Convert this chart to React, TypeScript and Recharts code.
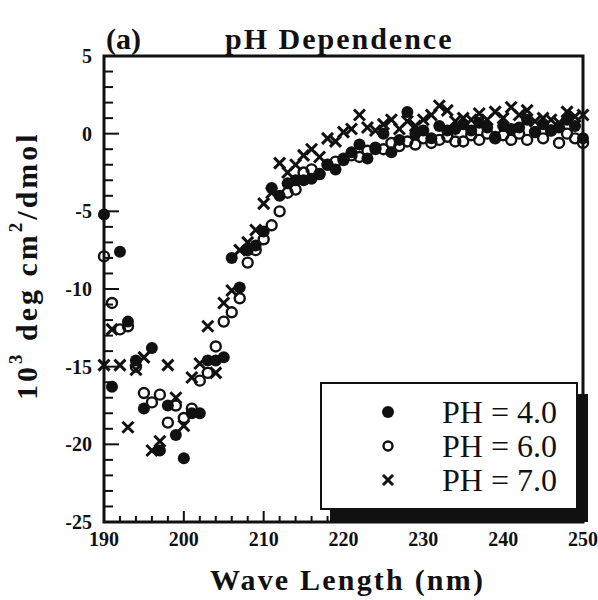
import * as React from "react";
import { ScatterChart, Scatter, XAxis, YAxis, ReferenceArea, Label } from "recharts";

/* ── data ──────────────────────────────────────────────────────────────────── */

const wavelength = [
  190, 191, 192, 193, 194, 195, 196, 197, 198, 199,
  200, 201, 202, 203, 204, 205, 206, 207, 208, 209,
  210, 211, 212, 213, 214, 215, 216, 217, 218, 219,
  220, 221, 222, 223, 224, 225, 226, 227, 228, 229,
  230, 231, 232, 233, 234, 235, 236, 237, 238, 239,
  240, 241, 242, 243, 244, 245, 246, 247, 248, 249, 250,
];

const ph4 = [
  -5.2, -16.3, -7.6, -12.1, -14.6, -17.7, -13.8, -20.4, -17.5, -19.4,
  -20.9, -18.0, -18.0, -14.6, -14.6, -14.4, -8.0, -9.9, -7.5, -7.2,
  -6.3, -3.5, -4.0, -3.2, -3.0, -3.0, -2.9, -2.6, -2.0, -2.3,
  -1.6, -1.2, -0.7, -1.6, -1.0, 0.0, -1.2, -0.4, 1.4, 0.0,
  0.2, -0.3, 0.5, 0.2, 0.3, 0.6, 0.2, 0.7, 0.4, -0.2,
  0.5, 0.3, 0.4, 0.9, 0.1, 0.6, 0.2, 0.4, 0.9, 0.5, -0.3,
];

const ph6 = [
  -7.9, -10.9, -12.6, -12.4, -15.0, -16.7, -17.3, -16.8, -18.6, -17.5,
  -18.3, -17.7, -15.9, -15.4, -13.7, -12.1, -11.5, -10.6, -8.3, -7.5,
  -6.8, -5.9, -5.0, -3.8, -3.6, -2.5, -2.3, -2.6, -2.0, -1.8,
  -1.7, -1.4, -1.5, -1.1, -0.9, -1.0, -0.6, -0.8, -0.5, -0.7,
  -0.3, -0.6, -0.4, -0.2, -0.5, -0.5, -0.1, -0.4, 0.0, -0.3,
  -0.1, -0.4, 0.0, -0.4, 0.1, -0.3, 0.2, -0.6, 0.0, -0.3, -0.6,
];

const ph7 = [
  -14.9, -12.6, -14.9, -18.9, -15.2, -14.4, -20.4, -19.8, -14.9, -17.0,
  -18.8, -15.7, -14.8, -12.4, -15.4, -10.9, -10.1, -7.5, -7.0, -6.2,
  -4.5, -3.8, -1.9, -2.5, -2.0, -1.4, -1.0, -1.5, -0.3, -0.5,
  0.1, 0.3, 1.2, 0.4, 0.2, 0.6, 0.9, 0.3, 0.8, 0.5,
  0.9, 1.2, 1.8, 1.5, 0.8, 1.0, 0.9, 1.3, 0.9, 1.4,
  1.0, 1.7, 1.2, 1.5, 0.8, 1.0, 0.9, 0.7, 1.4, 1.1, 1.2,
];

const xTicks = [
  190, 192, 194, 196, 198, 200, 202, 204, 206, 208, 210, 212, 214, 216, 218,
  220, 222, 224, 226, 228, 230, 232, 234, 236, 238, 240, 242, 244, 246, 248, 250,
];
const yTicks = [
  -25, -24, -23, -22, -21, -20, -19, -18, -17, -16, -15, -14, -13, -12, -11,
  -10, -9, -8, -7, -6, -5, -4, -3, -2, -1, 0, 1, 2, 3, 4, 5,
];

const legendItems = [
  { label: "PH = 4.0", kind: "dot" },
  { label: "PH = 6.0", kind: "ring" },
  { label: "PH = 7.0", kind: "cross" },
];

const toPoints = (ys: number[]) => wavelength.map((x, i) => ({ x, y: ys[i] }));

/* ── markers ───────────────────────────────────────────────────────────────── */

const INK = "#111";
const SERIF = "'Liberation Serif', 'Times New Roman', 'DejaVu Serif', serif";

function DotShape(p: any) {
  return <circle cx={p.cx} cy={p.cy} r={6} fill={INK} />;
}
function RingShape(p: any) {
  return <circle cx={p.cx} cy={p.cy} r={5} fill="none" stroke={INK} strokeWidth={2.4} />;
}
function CrossShape(p: any) {
  const s = 5.5;
  return (
    <g stroke={INK} strokeWidth={3}>
      <line x1={p.cx - s} y1={p.cy - s} x2={p.cx + s} y2={p.cy + s} />
      <line x1={p.cx - s} y1={p.cy + s} x2={p.cx + s} y2={p.cy - s} />
    </g>
  );
}

/* ── ticks: inward marks, labels on majors ─────────────────────────────────── */

function XTick(p: any) {
  const v = p.payload.value;
  const major = v % 10 === 0;
  return (
    <g>
      <line x1={p.x} y1={p.y} x2={p.x} y2={p.y - (major ? 11 : 6)} stroke={INK} strokeWidth={2} />
      {major && (
        <text x={p.x} y={p.y + 24} textAnchor="middle" fontFamily={SERIF} fontWeight="bold" fontSize={20} fill={INK}>
          {v}
        </text>
      )}
    </g>
  );
}

function YTick(p: any) {
  const v = p.payload.value;
  const major = v % 5 === 0;
  return (
    <g>
      <line x1={p.x} y1={p.y} x2={p.x + (major ? 15 : 9)} y2={p.y} stroke={INK} strokeWidth={2} />
      {major && (
        <text x={p.x - 12} y={p.y} dy="0.35em" textAnchor="end" fontFamily={SERIF} fontWeight="bold" fontSize={20} fill={INK}>
          {v}
        </text>
      )}
    </g>
  );
}

function YTitle(p: any) {
  const vb = p.viewBox;
  const cx = vb.x + 26;
  const cy = vb.y + vb.height - 122;
  return (
    <text
      x={cx}
      y={cy}
      transform={`rotate(-90 ${cx} ${cy})`}
      textAnchor="start"
      dominantBaseline="central"
      fontFamily={SERIF}
      fontWeight="bold"
      fontSize={30}
      letterSpacing={3}
      fill={INK}
    >
      10<tspan dy={-11} fontSize={19}>3</tspan>
      <tspan dy={11}> deg cm</tspan>
      <tspan dy={-11} fontSize={19}>2</tspan>
      <tspan dy={11}>/dmol</tspan>
    </text>
  );
}

function XTitle(p: any) {
  const vb = p.viewBox;
  return (
    <text
      x={vb.x + vb.width / 2 + 4}
      y={vb.y + 68}
      textAnchor="middle"
      fontFamily={SERIF}
      fontWeight="bold"
      fontSize={30}
      letterSpacing={2.2}
      fill={INK}
    >
      Wave Length (nm)
    </text>
  );
}

function LegendMarker({ kind }: { kind: string }) {
  return (
    <svg width={20} height={20} style={{ display: "block" }}>
      {kind === "dot" && <circle cx={10} cy={10} r={6} fill={INK} />}
      {kind === "ring" && <circle cx={10} cy={10} r={4.5} fill="none" stroke={INK} strokeWidth={2.4} />}
      {kind === "cross" && (
        <g stroke={INK} strokeWidth={3}>
          <line x1={5} y1={5} x2={15} y2={15} />
          <line x1={5} y1={15} x2={15} y2={5} />
        </g>
      )}
    </svg>
  );
}

export default function App() {
  return (
    <div style={{ position: "absolute", left: 0, top: 0, width: 598, height: 600, background: "#fff" }}>
      <div
        style={{
          position: "absolute",
          left: 106,
          top: 22,
          fontFamily: SERIF,
          fontWeight: "bold",
          fontSize: 30,
          lineHeight: "34px",
          color: INK,
          whiteSpace: "nowrap",
        }}
      >
        (a)
        <span style={{ marginLeft: 84, letterSpacing: 2 }}>pH Dependence</span>
      </div>

      <ScatterChart width={598} height={600} margin={{ top: 56, right: 15, bottom: 0, left: 0 }}>
        <XAxis
          type="number"
          dataKey="x"
          domain={[190, 250]}
          ticks={xTicks}
          interval={0}
          height={78}
          tickSize={0}
          tickMargin={0}
          axisLine={false}
          tickLine={false}
          tick={<XTick />}
        >
          <Label content={<XTitle />} />
        </XAxis>
        <YAxis
          type="number"
          dataKey="y"
          domain={[-25, 5]}
          ticks={yTicks}
          interval={0}
          width={104}
          tickSize={0}
          tickMargin={0}
          axisLine={false}
          tickLine={false}
          tick={<YTick />}
        >
          <Label content={<YTitle />} />
        </YAxis>
        <ReferenceArea x1={190} x2={250} y1={-25} y2={5} fill="none" stroke={INK} strokeWidth={3} />
        <Scatter name="PH = 4.0" data={toPoints(ph4)} shape={<DotShape />} isAnimationActive={false} />
        <Scatter name="PH = 6.0" data={toPoints(ph6)} shape={<RingShape />} isAnimationActive={false} />
        <Scatter name="PH = 7.0" data={toPoints(ph7)} shape={<CrossShape />} isAnimationActive={false} />
      </ScatterChart>

      <div
        style={{
          position: "absolute",
          left: 320,
          top: 382,
          width: 254,
          height: 124,
          border: `2px solid ${INK}`,
          background: "#fff",
          boxShadow: `10px 12px 0 ${INK}`,
          fontFamily: SERIF,
          fontSize: 32,
          color: INK,
        }}
      >
        {legendItems.map((it, i) => (
          <div
            key={it.label}
            style={{ position: "absolute", left: 56, top: 11 + i * 34, height: 34, display: "flex", alignItems: "center" }}
          >
            <LegendMarker kind={it.kind} />
            <span style={{ marginLeft: 44, whiteSpace: "nowrap" }}>{it.label}</span>
          </div>
        ))}
      </div>
    </div>
  );
}
